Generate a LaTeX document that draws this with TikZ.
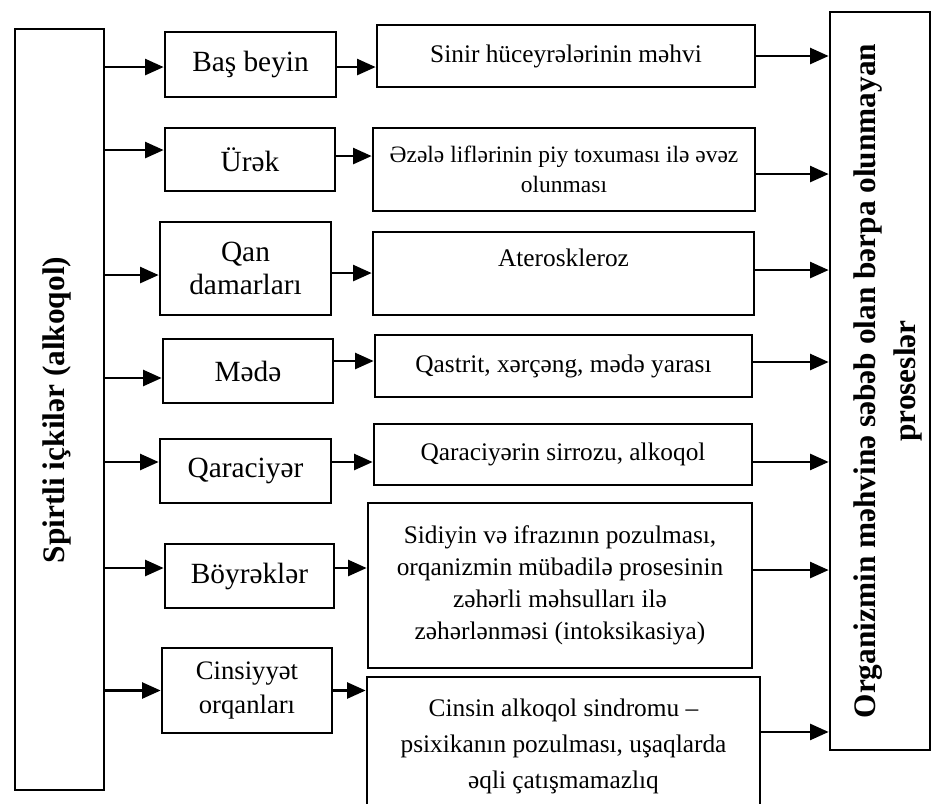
\documentclass[tikz,border=0pt]{standalone}
\usepackage{fontspec}
\setmainfont{Liberation Serif}
\usetikzlibrary{arrows.meta}
\begin{document}
\begin{tikzpicture}[x=0.75pt,y=-0.75pt,
  sz/.style 2 args={minimum width=#1*0.75pt, minimum height=#2*0.75pt},
  box/.style={draw, line width=2pt, inner sep=0pt, align=center},
  orgbox/.style={box, font=\fontsize{22}{25}\selectfont},
  effbox/.style={box, font=\fontsize{19}{24}\selectfont},
  arr/.style={line width=2pt, -{Triangle[length=14pt,width=12pt]}},
  bigtext/.style={font=\fontsize{23.5}{30}\selectfont\bfseries, align=center, rotate=90, inner sep=0pt}]
\clip (0,0) rectangle (933,804);
% left box
\node[box, sz={89}{761}] (L) at (59.5,409.5) {};
\node[bigtext] (Lt) at (57,410) {Spirtli içkilər (alkoqol)};
% right box
\node[box, sz={100}{738}] (R) at (880,381) {};
\node[bigtext] (Rt) at (888,381) {Organizmin məhvinə səbəb olan bərpa olunmayan\\proseslər};
% organs
\node[orgbox, sz={171}{65}] (o1) at (250.5,64.5) {Baş beyin};
\node[orgbox, sz={170}{63}] (o2) at (250,159.5) {Ürək};
\node[orgbox, sz={171}{93}, font=\fontsize{22}{25}\selectfont] (o3) at (245.5,268.5) {Qan\\damarları};
\node[orgbox, sz={170}{64}] (o4) at (248,371) {Mədə};
\node[orgbox, sz={171}{64}] (o5) at (245.5,471) {Qaraciyər};
\node[orgbox, sz={169}{64}] (o6) at (249.5,576) {Böyrəklər};
\node[orgbox, sz={170}{85}, font=\fontsize{20}{26}\selectfont] (o7) at (247,690.5) {Cinsiyyət\\orqanları};
% effects
\node[effbox, sz={378}{62}] (e1) at (566,56) {Sinir hüceyrələrinin məhvi};
\node[effbox, sz={382}{83}, font=\fontsize{17.6}{22.5}\selectfont] (e2) at (564,169.5) {Əzələ liflərinin piy toxuması ilə əvəz\\olunması};
\node[effbox, sz={381}{83}] (e3) at (563.5,273.5) {Ateroskleroz\\\mbox{}};
\node[effbox, sz={377}{62}] (e4) at (563.5,366) {Qastrit, xərçəng, mədə yarası};
\node[effbox, sz={378}{61}] (e5) at (563,454.5) {Qaraciyərin sirrozu, alkoqol};
\node[effbox, sz={384}{165}] (e6) at (560,585.5) {Sidiyin və ifrazının pozulması,\\orqanizmin mübadilə prosesinin\\zəhərli məhsulları ilə\\zəhərlənməsi (intoksikasiya)};
\node[effbox, sz={393}{139}, font=\fontsize{19}{27}\selectfont] (e7) at (563.5,746.5) {Cinsin alkoqol sindromu --\\psixikanın pozulması, uşaqlarda\\əqli çatışmamazlıq};
% anchor points for connectors
\coordinate (a1) at ([yshift=-1.9pt]o1.west);
\coordinate (a2) at ([yshift=7.1pt]o2.west);
\coordinate (a3) at ([yshift=-4.9pt]o3.west);
\coordinate (a4) at ([yshift=-5.25pt]o4.west);
\coordinate (a5) at ([yshift=6.75pt]o5.west);
\coordinate (a6) at ([yshift=6pt]o6.west);
\coordinate (a7) at (o7.west);
\coordinate (b1) at ([yshift=-1.9pt]o1.east);
\coordinate (b2) at ([yshift=2.6pt]o2.east);
\coordinate (b3) at ([yshift=-3.4pt]o3.east);
\coordinate (b4) at ([yshift=7.5pt]o4.east);
\coordinate (b5) at ([yshift=6.75pt]o5.east);
\coordinate (b6) at ([yshift=6pt]o6.east);
\coordinate (b7) at (o7.east);
\coordinate (c1) at (e1.east);
\coordinate (c2) at ([yshift=-3.4pt]e2.east);
\coordinate (c3) at ([yshift=2.6pt]e3.east);
\coordinate (c4) at ([yshift=3pt]e4.east);
\coordinate (c5) at ([yshift=-5.6pt]e5.east);
\coordinate (c6) at ([yshift=11.6pt]e6.east);
\coordinate (c7) at ([yshift=10.9pt]e7.east);
\foreach \k in {1,...,7}{
  \draw[arr] (a\k -| L.east) -- (a\k);
  \draw[arr] (b\k) -- (b\k -| e\k.west);
  \draw[arr] (c\k) -- (c\k -| R.west);
}
\end{tikzpicture}
\end{document}
